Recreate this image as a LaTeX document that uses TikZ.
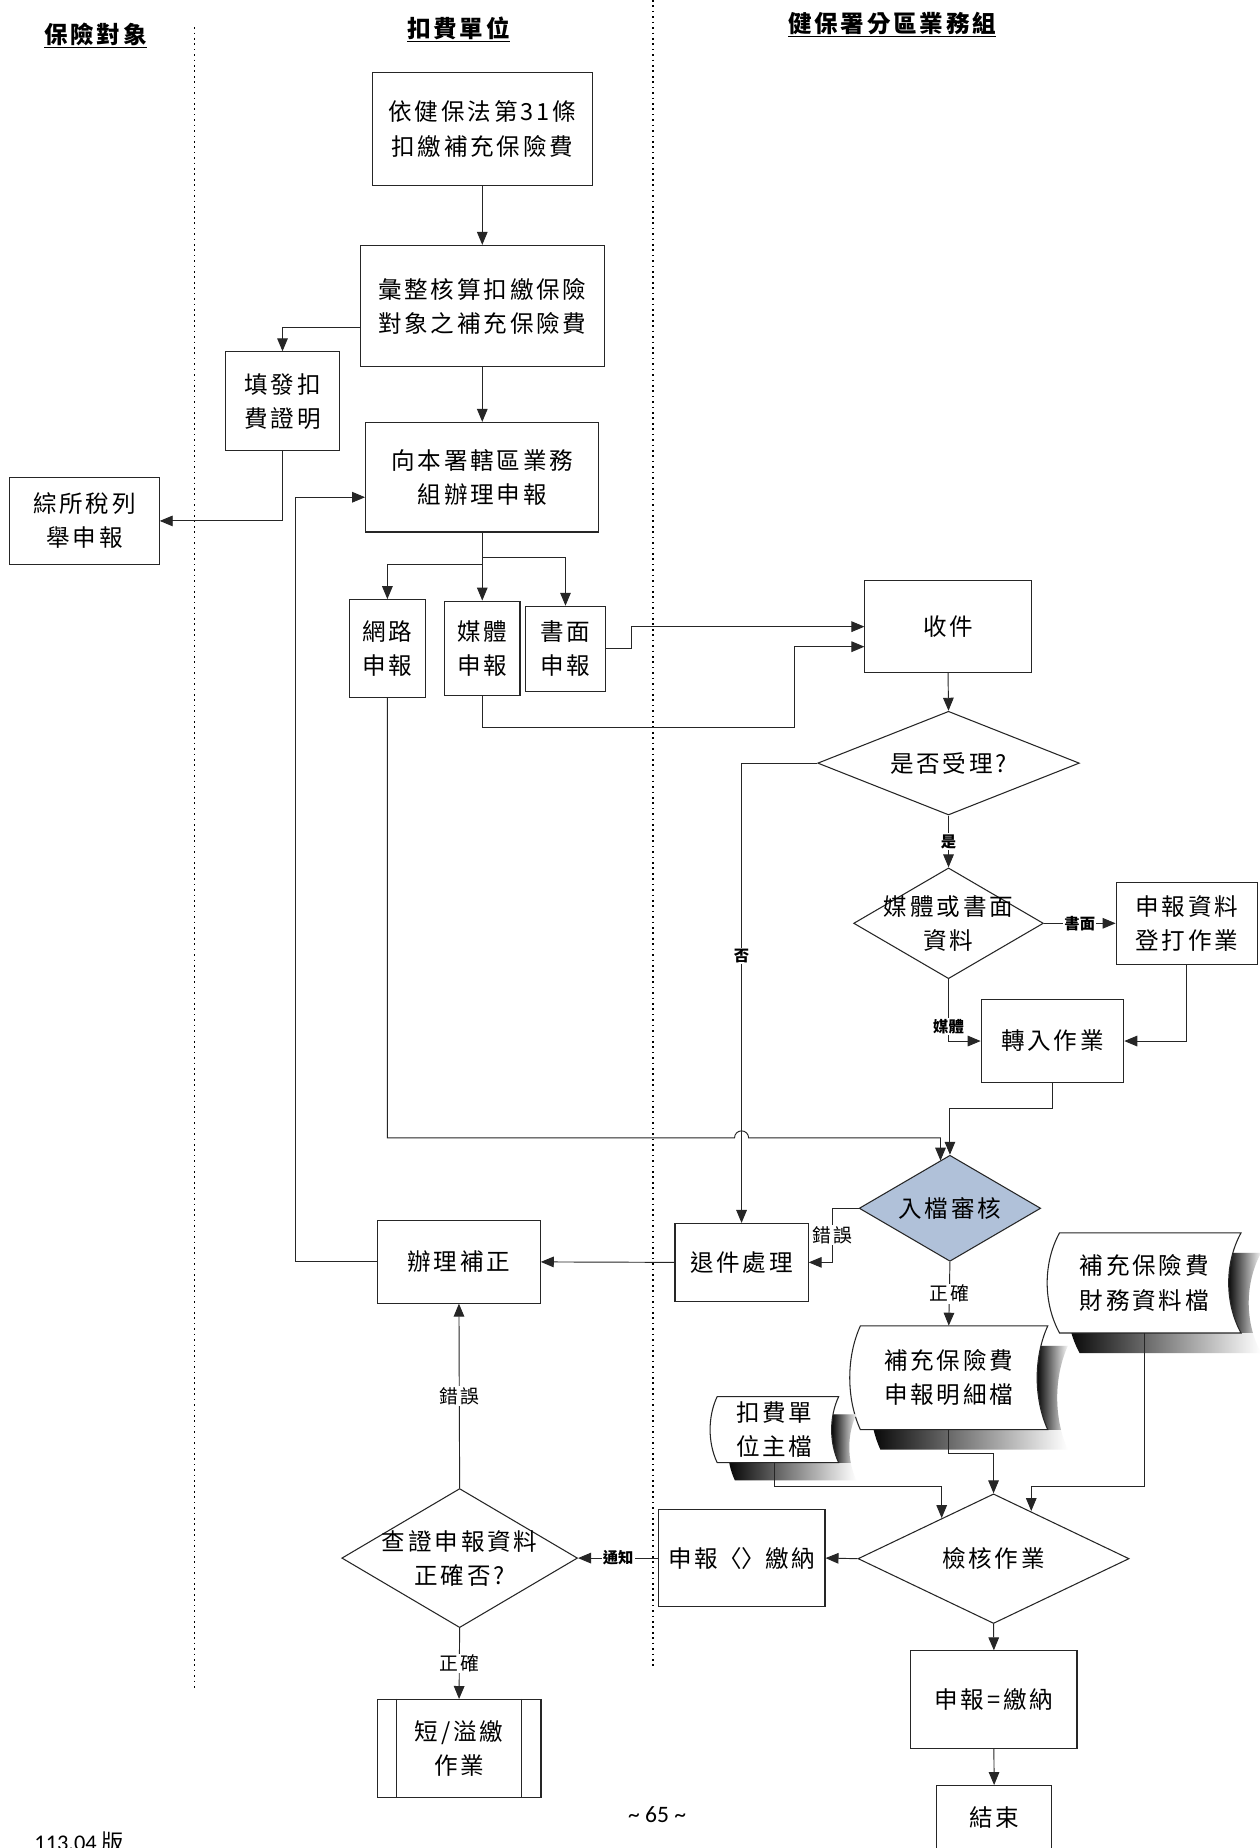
\documentclass[tikz,border=0pt]{standalone}
\usepackage{fontspec}
\setmainfont{Carlito}
\newfontfamily\cjk[LetterSpace=12]{Noto Sans CJK TC}
\newfontfamily\cjkn{Noto Sans CJK TC}
\newfontfamily\cjksc{Noto Sans CJK SC}
\usetikzlibrary{arrows.meta,shapes.geometric,calc}
% stored-data shape: xl, xr, ytop, ybottom, curve depth
\newcommand\stpath[5]{(#1,#3) -- (#2,#3) .. controls ({#2-4*#5/3},{#3+0.3*(#4-#3)}) and ({#2-4*#5/3},{#4-0.3*(#4-#3)}) .. (#2,#4) -- (#1,#4) .. controls ({#1-4*#5/3},{#4-0.3*(#4-#3)}) and ({#1-4*#5/3},{#3+0.3*(#4-#3)}) .. (#1,#3) -- cycle}
\definecolor{kblue}{RGB}{176,193,217}
\tikzset{
 ln/.style={draw=black!85, line width=0.9pt},
 box/.style={ln, rectangle, inner sep=0pt, font=\cjk\fontsize{20}{29}\selectfont, align=center},
 doc/.style={rectangle, inner sep=0pt, font=\cjk\fontsize{20}{29}\selectfont, align=center},
 dia/.style={ln, diamond, inner sep=0pt},
 dtxt/.style={font=\cjk\fontsize{20}{29}\selectfont, align=center, inner sep=0pt},
 arr/.style={line width=0.8pt, draw=black!85, -{Triangle[length=11pt,width=9pt]}},
 con/.style={line width=0.8pt, draw=black!85},
 blbl/.style={font=\cjkn\bfseries\fontsize{13}{15}\selectfont, fill=white, inner sep=1pt},
 rlbl/.style={font=\cjk\fontsize{16}{18}\selectfont, fill=white, inner sep=1pt},
 hdr/.style={font=\cjk\bfseries\fontsize{20}{24}\selectfont, inner sep=0pt},
 dotline/.style={line width=1.4pt, dash pattern=on 1.4pt off 3.2pt, black}
}
\begin{document}
\begin{tikzpicture}[x=1pt,y=-1pt]
\fill[white] (0,0) rectangle (1069,1568);
\useasboundingbox (0,0) rectangle (1069,1568);

% headers and lane separators
\node[hdr] (h1) at (81,30) {\underline{保險對象}};
\node[hdr] (h2) at (389,25) {\underline{扣費單位}};
\node[hdr] (h3) at (757,21) {\underline{健保署分區業務組}};
\draw[dotline] (165,23) -- (165,1432);
\draw[dotline] (553.8,0) -- (553.8,1414);

% boxes
\node[box, minimum width=187pt, minimum height=96pt] (A) at (409.2,109.5) {依健保法第31條\\扣繳補充保險費};
\node[box, minimum width=207pt, minimum height=103pt] (B) at (409.2,259.7) {彙整核算扣繳保險\\對象之補充保險費};
\node[box, minimum width=96pt, minimum height=84pt] (C) at (239.7,340.5) {填發扣\\費證明};
\node[box, minimum width=198pt, minimum height=93pt] (D) at (409.2,404.9) {向本署轄區業務\\組辦理申報};
\node[box, minimum width=127pt, minimum height=74pt] (E) at (71.6,442) {綜所稅列\\舉申報};
\node[box, minimum width=64pt, minimum height=83pt] (W) at (328.7,550.3) {網路\\申報};
\node[box, minimum width=64pt, minimum height=80pt] (MB) at (409.2,550) {媒體\\申報};
\node[box, minimum width=67.5pt, minimum height=72pt] (SM) at (479.8,550.4) {書面\\申報};
\node[box, minimum width=141pt, minimum height=78pt] (F) at (804.4,531.7) {收件};
\node[dia, minimum width=222pt, minimum height=88pt, label={[dtxt]center:是否受理?}] (G) at (804.8,647.5) {};
\node[dia, minimum width=161pt, minimum height=94pt, label={[dtxt]center:媒體或書面\\資料}] (H) at (804.8,783.4) {};
\node[box, minimum width=120pt, minimum height=70pt] (I) at (1007,783.4) {申報資料\\登打作業};
\node[box, minimum width=121pt, minimum height=71pt] (J) at (893,883.3) {轉入作業};
\node[dia, fill=kblue, minimum width=154pt, minimum height=90pt, label={[dtxt]center:入檔審核}] (K) at (806,1025.2) {};
\node[box, minimum width=113pt, minimum height=66pt] (L) at (629.2,1071.1) {退件處理};
\node[box, minimum width=138pt, minimum height=70pt] (M) at (389.4,1070.7) {辦理補正};

% stored-data documents with gradient shadows
% O
\shade[left color=black, right color=white] \stpath{916}{1070}{1063}{1148}{10.5};
\begin{scope}
 \clip \stpath{916}{1070}{1063}{1148}{10.5};
 \shade[left color=black, right color=white] (1041,1063) rectangle (1071,1131);
\end{scope}
\filldraw[fill=white, ln] \stpath{899}{1053}{1046}{1131}{10.5};
% N
\shade[left color=black, right color=white] \stpath{747}{906}{1142}{1230}{9};
\begin{scope}
 \clip \stpath{747}{906}{1142}{1230}{9};
 \shade[left color=black, right color=white] (879,1142) rectangle (907,1213);
\end{scope}
\filldraw[fill=white, ln] \stpath{730}{889}{1125}{1213}{9};
% P
\shade[left color=black, right color=white] \stpath{623.5}{726.6}{1200}{1256}{6};
\begin{scope}
 \clip \stpath{623.5}{726.6}{1200}{1256}{6};
 \shade[left color=black, right color=white] (705,1200) rectangle (727.6,1241);
\end{scope}
\filldraw[fill=white, ln] \stpath{608.5}{711.6}{1185}{1241}{6};

\node[doc, minimum width=150pt, minimum height=88pt] (N) at (805,1169) {補充保險費\\申報明細檔};
\node[doc, minimum width=145pt, minimum height=85pt] (O) at (971,1088.5) {補充保險費\\財務資料檔};
\node[doc, minimum width=98pt, minimum height=56pt] (P) at (657,1213) {扣費單\\位主檔};

\node[dia, minimum width=230pt, minimum height=110pt, label={[dtxt]center:檢核作業}] (Q) at (843,1322.5) {};
\node[box, minimum width=141pt, minimum height=82pt] (R) at (629.5,1322) {申報{\cjksc 〈〉}繳納};
\node[dia, minimum width=200pt, minimum height=118pt, label={[dtxt]center:查證申報資料\\正確否?}] (S) at (390,1322) {};
\node[box, minimum width=139pt, minimum height=83pt] (T) at (389.5,1483.5) {短/溢繳\\作業};
\draw[ln] ($(T.north west)+(17,0)$) -- ($(T.south west)+(17,0)$);
\draw[ln] ($(T.north east)+(-17,0)$) -- ($(T.south east)+(-17,0)$);
\node[box, minimum width=141pt, minimum height=83pt] (U) at (843.3,1442.2) {申報=繳納};
\node[box, minimum width=98pt, minimum height=54pt] (V) at (843.5,1542) {結束};

% footer
\node[font=\fontsize{20}{22}\selectfont, inner sep=0pt] (pg) at (557.6,1540) {\textasciitilde{} 65 \textasciitilde};
\node[anchor=north west, font=\fontsize{19}{22}\selectfont, inner sep=0pt] (ver) at (29,1554) {113.04 {\cjkn 版}};

% connectors
\draw[arr] (A.south) -- (B.north);
\draw[arr] (B.west |- 0,278) -| (C.north);
\draw[arr] (B.south) -- (D.north);
\draw[arr] (C.south) |- (E.east);
\draw[arr] (D.south) -- ++(0,27) -| (W.north);
\draw[arr] (D.south) -- (MB.north);
\draw[arr] (D.south) -- ++(0,21) -| (SM.north);
\draw[arr] (SM.east) -- ++(21.5,0) |- (F.west);
\draw[arr] (MB.south) -- ++(0,27) -| ($(F.west)+(-59,17)$) -- ($(F.west)+(0,17)$);
\draw[arr] (F.south) -- (G.north);
\draw[arr] (G.west) -| node[blbl, pos=0.71] {否} (L.north);
\draw[arr] (G.south) -- node[blbl] {是} (H.north);
\draw[arr] (H.east) -- node[blbl] {書面} (I.west);
\draw[arr] (H.south) |- node[blbl, pos=0.38] {媒體} (J.west);
\draw[arr] (I.south) |- (J.east);
\draw[arr] (J.south) -- ++(0,21) -| (K.north);
\draw[arr] (W.south) |- ($(L.north |- 0,965.5)+(-6,0)$) arc[start angle=180, end angle=360, radius=6] -| ($(K.north)+(-8,5)$);
\draw[arr] (K.west) -- ++(-22,0) |- node[rlbl, pos=0.25] {錯誤} (L.east);
\draw[arr] (L.west) -- (M.east);
\draw[arr] (M.west) -- ++(-69,0) |- ($(D.west)+(0,17)$);
\draw[arr] (K.south) -- node[rlbl] {正確} (N.north);
\draw[arr] (N.south) -- ++(0,20) -| (Q.north);
\draw[arr] (P.south) -- ++(0,20) -| ($(Q.north)+(-44,21)$);
\draw[arr] (O.south) -- ++(0,130) -| ($(Q.north)+(32,15)$);
\draw[arr] (Q.west) -- (R.east);
\draw[arr] (R.west) -- node[blbl] {通知} (S.east);
\draw[arr] (S.north) -- node[rlbl] {錯誤} (M.south);
\draw[arr] (S.south) -- node[rlbl] {正確} (T.north);
\draw[arr] (Q.south) -- (U.north);
\draw[arr] (U.south) -- (V.north);
\end{tikzpicture}
\end{document}
